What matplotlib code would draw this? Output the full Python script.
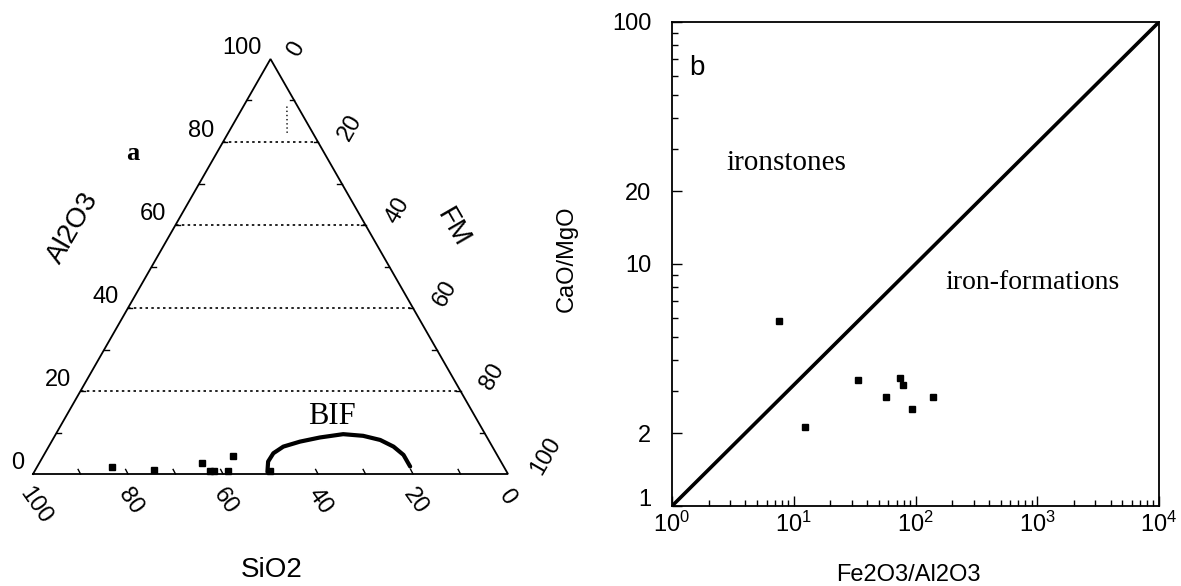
import numpy as np
import matplotlib
matplotlib.use("Agg")
import matplotlib.pyplot as plt
import matplotlib.transforms as mtransforms
from matplotlib.ticker import FixedLocator, FixedFormatter, NullFormatter, LogLocator

plt.rcParams['font.family'] = ['Liberation Sans', 'DejaVu Sans']
plt.rcParams['mathtext.default'] = 'regular'

# ---- panel a: SiO2 - Al2O3 - FM ternary (wt%) ----
sample_sio2 = [82.6, 74.0, 63.2, 62.3, 61.5, 58.5, 55.7, 49.7]
sample_al2o3 = [1.6, 1.0, 2.6, 0.8, 0.8, 0.8, 4.3, 0.8]

bif_sio2 = [50.4, 49.0, 46.9, 44.0, 39.9, 35.2, 29.9, 25.9, 22.8, 20.8, 19.7, 19.7]
bif_al2o3 = [0.5, 3.0, 5.0, 6.6, 7.8, 8.8, 9.6, 9.2, 8.2, 6.6, 4.6, 1.8]

grid_al2o3 = [20, 40, 60, 80]
tern_ticks = [0, 20, 40, 60, 80, 100]

# ---- panel b: CaO/MgO vs Fe2O3/Al2O3 ----
fe_al = [7.6, 12.4, 33.7, 56.9, 74.3, 79.4, 93.5, 140.0]
ca_mg = [5.8, 2.13, 3.32, 2.82, 3.37, 3.16, 2.52, 2.83]
divide_x = [1.0, 1.0e4]
divide_y = [1.0, 100.0]
y_major = [1, 2, 10, 20, 100]
y_minor = [3, 4, 5, 6, 7, 8, 9, 30, 40, 50, 60, 70, 80, 90]

W, H = 1181, 586
fig = plt.figure(figsize=(W / 100, H / 100), dpi=100)


def tern(si, al):
    si = np.asarray(si, float)
    al = np.asarray(al, float)
    return 100.0 - si - al / 2.0, al


# ternary axes laid out in pixel units: 4.75 px per unit across, 4.15 px per unit up
ax1 = fig.add_axes([0, 0, 590 / W, 1])
ax1.set_xlim(-33 / 4.75, (590 - 33) / 4.75)
ax1.set_ylim(-112 / 4.15, (586 - 112) / 4.15)
ax1.axis('off')

# triangle frame
fx, fy = tern([100, 0, 0, 100], [0, 100, 0, 0])
ax1.plot(fx, fy, color='black', lw=1.3, solid_joinstyle='miter')

# dotted Al2O3 guide lines
for g in grid_al2o3:
    gx, gy = tern([100 - g, 0], [g, g])
    ax1.plot(gx, gy, color='black', lw=1.2, ls=(0, (1.5, 2.0)))
vx, vy = tern([5.4, 2.2], [82.2, 88.7])
ax1.plot(vx, vy, color='black', lw=1.0, ls=(0, (1.0, 2.0)))

# small tick marks along the edges
for t in range(10, 100, 10):
    lx, ly = tern(100 - t, t)
    ax1.plot([lx, lx + 0.9], [ly, ly], color='black', lw=1.0)
    rx, ry = tern(0, 100 - t)
    ax1.plot([rx, rx - 0.9], [ry, ry], color='black', lw=1.0)
    bx, by = tern(t, 0)
    ax1.plot([bx, bx - 0.5], [by, by + 1.1], color='black', lw=1.0)

# BIF field
bx, by = tern(bif_sio2, bif_al2o3)
ax1.plot(bx, by, color='black', lw=3.0, solid_capstyle='round')

# samples
sx, sy = tern(sample_sio2, sample_al2o3)
ax1.plot(sx, sy, ls='none', marker='s', ms=5, color='black')

fs = 17
for v in tern_ticks:
    n = len(str(v))
    # Al2O3 (left edge)
    ax1.annotate(str(v), xy=tern(100 - v, v), xytext=(-9, 11),
                 textcoords='offset pixels', ha='right', va='center', fontsize=fs)
    # FM (right edge)
    ax1.annotate(str(v), xy=tern(0, 100 - v), xytext=(20 + 6 * n, 5 + 4.5 * n),
                 textcoords='offset pixels', ha='center', va='center',
                 rotation=60, fontsize=fs)
    # SiO2 (base)
    ax1.annotate(str(v), xy=tern(v, 0), xytext=(2 - (3 if n == 1 else 0), -(18 + 4.5 * n)),
                 textcoords='offset pixels', ha='center', va='center',
                 rotation=-55, fontsize=fs)


def px(x, y):
    return x / W, 1 - y / H


fig.text(*px(73, 228), 'Al2O3', rotation=60, ha='center', va='center', fontsize=20)
fig.text(*px(453, 228), 'FM', rotation=-60, ha='center', va='center', fontsize=20)
fig.text(*px(272, 570), 'SiO2', ha='center', va='center', fontsize=20)
fig.text(*px(133, 154), 'a', ha='center', va='center', fontsize=19,
         family='Liberation Serif', weight='bold')
fig.text(*px(332, 417), 'BIF', ha='center', va='center', fontsize=22,
         family='Liberation Serif')

# ---- ratio plot ----
ax2 = fig.add_axes([672 / W, 80 / H, 487 / W, 484 / H])
ax2.set_xscale('log')
ax2.set_yscale('log')
ax2.set_xlim(1, 1e4)
ax2.set_ylim(1, 100)

ax2.plot(divide_x, divide_y, color='black', lw=2.6)
ax2.plot(fe_al, ca_mg, ls='none', marker='s', ms=4.5, color='black')

ax2.yaxis.set_major_locator(FixedLocator(y_major))
ax2.yaxis.set_major_formatter(FixedFormatter([str(v) for v in y_major]))
ax2.yaxis.set_minor_locator(FixedLocator(y_minor))
ax2.yaxis.set_minor_formatter(NullFormatter())
ax2.xaxis.set_major_locator(LogLocator(base=10, numticks=10))
ax2.xaxis.set_minor_locator(LogLocator(base=10, subs=np.arange(2, 10), numticks=20))
ax2.xaxis.set_minor_formatter(NullFormatter())

ax2.tick_params(which='both', direction='in', top=False, right=False,
                labelsize=fs, width=1.0)
ax2.tick_params(which='major', length=7)
ax2.tick_params(which='minor', length=4)
ax2.tick_params(axis='y', pad=15)
ax2.tick_params(axis='x', pad=4)
for s in ax2.spines.values():
    s.set_linewidth(1.3)

# lift the lowest y label clear of the x labels
fig.canvas.draw()
lift = mtransforms.ScaledTranslation(0, 8 / 100, fig.dpi_scale_trans)
ylabels = ax2.get_yticklabels()
ylabels[0].set_transform(ylabels[0].get_transform() + lift)

ax2.set_ylabel('CaO/MgO', fontsize=fs)
ax2.yaxis.set_label_coords(-0.193, 0.51)
ax2.set_xlabel('Fe2O3/Al2O3', fontsize=fs, va='center')
ax2.xaxis.set_label_coords(0.485, -0.143)

ax2.text(0.051, 0.905, 'b', transform=ax2.transAxes, ha='center', va='center', fontsize=20)
ax2.text(0.234, 0.709, 'ironstones', transform=ax2.transAxes, ha='center', va='center',
         fontsize=21, family='Liberation Serif')
ax2.text(0.741, 0.461, 'iron-formations', transform=ax2.transAxes, ha='center',
         va='center', fontsize=20, family='Liberation Serif')

fig.savefig('out.png', dpi=100)
